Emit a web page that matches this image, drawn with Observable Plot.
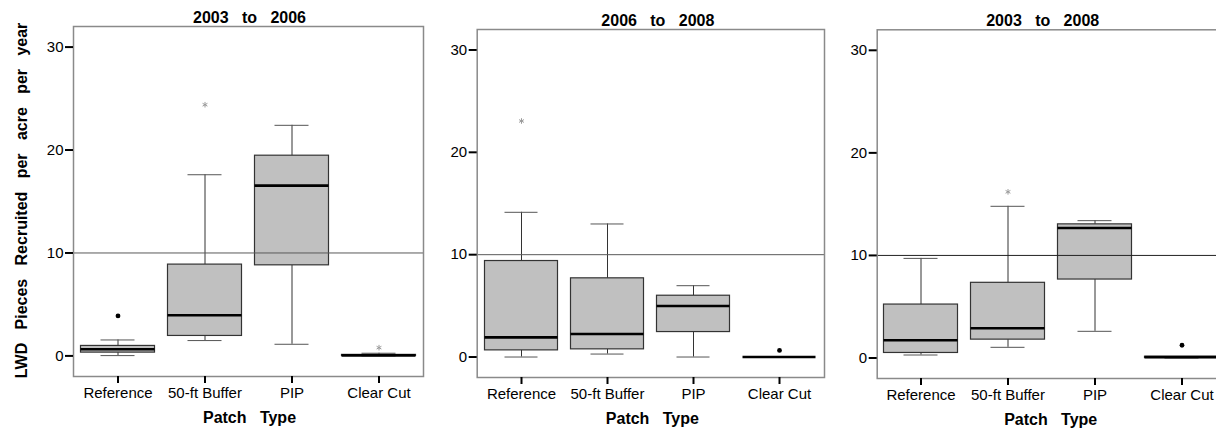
<!DOCTYPE html>
<html>
<head>
<meta charset="utf-8">
<script src="https://cdn.jsdelivr.net/npm/d3@7"></script>
<script src="https://cdn.jsdelivr.net/npm/@observablehq/plot@0.6"></script>
<style>
  html, body { margin: 0; padding: 0; background: #fff; }
  #chart { position: relative; width: 1216px; height: 428px; overflow: hidden; background: #fff; }
  #chart svg { position: absolute; top: 0; }
</style>
</head>
<body>
<div id="chart"></div>
<script>
// Patch types along each x axis
const patchTypes = ["Reference", "50-ft Buffer", "PIP", "Clear Cut"];

// Monitoring periods, one panel each
const periods = ["2003 to 2006", "2006 to 2008", "2003 to 2008"];

// Box-plot summaries (LWD pieces recruited per acre per year), one row per period,
// one value per patch type in the order of patchTypes
const whiskerLow  = [[0.03, 1.49, 1.13, 0.00], [0.00, 0.29, 0.00, 0.00], [0.29, 1.04, 2.60, 0.00]];
const quartile1   = [[0.32, 1.94, 8.80, 0.00], [0.65, 0.75, 2.44, 0.00], [0.49, 1.79, 7.65, 0.00]];
const medians     = [[0.65, 3.95, 16.54, 0.05], [1.92, 2.25, 4.98, 0.00], [1.73, 2.90, 12.67, 0.08]];
const quartile3   = [[0.97, 8.87, 19.45, 0.10], [9.38, 7.69, 5.99, 0.00], [5.21, 7.33, 13.03, 0.12]];
const whiskerHigh = [[1.55, 17.60, 22.40, 0.26], [14.14, 13.00, 6.97, 0.00], [9.71, 14.79, 13.39, 0.12]];

// Individual points beyond the whiskers: period index, patch type, value, kind
const outlierPeriod = [0, 0, 0, 1, 1, 2, 2];
const outlierPatch  = ["Reference", "50-ft Buffer", "Clear Cut", "Reference", "Clear Cut", "50-ft Buffer", "Clear Cut"];
const outlierValue  = [3.88, 24.4, 0.8, 23.06, 0.65, 16.2, 1.24];
const outlierKind   = ["outlier", "extreme", "extreme", "extreme", "outlier", "extreme", "outlier"];

// Reference level drawn across every panel
const targetLevel = [10];
const yTicks = [0, 10, 20, 30];

const xTitle = "Patch Type";
const yTitle = "LWD Pieces Recruited per acre per year";

// Wide word gaps in the titles (non-breaking so SVG keeps them)
const spaced = (s) => s.split(" ").join("\u00a0\u00a0 ");

// Panel placement on the page
const panels = [
  {left: 0,   width: 428, marginLeft: 73,   marginRight: 5,   marginTop: 26,   marginBottom: 52, titleDx: 1,    xTitleDx: 1,  rule: "#5a5a5a"},
  {left: 440, width: 392, marginLeft: 36.7, marginRight: 8,   marginTop: 29,   marginBottom: 51, titleDx: 7,    xTitleDx: 1.5, rule: "#5a5a5a"},
  {left: 840, width: 390, marginLeft: 36.7, marginRight: 5.3, marginTop: 29.3, marginBottom: 50, titleDx: -8.5, xTitleDx: -0.5, rule: "#222"}
];

const chart = document.getElementById("chart");
const font = "'Liberation Sans', Arial, Helvetica, sans-serif";

periods.forEach((period, i) => {
  const L = panels[i];
  const rows = patchTypes.map((p, j) => ({
    patch: p,
    lo: whiskerLow[i][j],
    q1: quartile1[i][j],
    med: medians[i][j],
    q3: quartile3[i][j],
    hi: whiskerHigh[i][j]
  }));
  const pts = outlierValue
    .map((v, k) => ({period: outlierPeriod[k], patch: outlierPatch[k], value: v, kind: outlierKind[k]}))
    .filter(d => d.period === i);

  const marks = [
    // whiskers
    Plot.ruleX(rows, {x: "patch", y1: "lo", y2: "q1", stroke: "#333", strokeWidth: 1}),
    Plot.ruleX(rows, {x: "patch", y1: "q3", y2: "hi", stroke: "#333", strokeWidth: 1}),
    Plot.tickY(rows, {x: "patch", y: "lo", stroke: "#555", strokeWidth: 1, insetLeft: 26.5, insetRight: 26.5}),
    Plot.tickY(rows, {x: "patch", y: "hi", stroke: "#555", strokeWidth: 1, insetLeft: 26.5, insetRight: 26.5}),
    // boxes
    Plot.barY(rows, {x: "patch", y1: "q1", y2: "q3", fill: "#c0c0c0", stroke: "#333", strokeWidth: 1.2, insetLeft: 6.5, insetRight: 6.5}),
    // medians
    Plot.tickY(rows, {x: "patch", y: "med", stroke: "#000", strokeWidth: 2.6, insetLeft: 6.5, insetRight: 6.5}),
    // level line
    Plot.ruleY(targetLevel, {stroke: L.rule, strokeWidth: 1}),
    // outliers and extremes
    Plot.dot(pts.filter(d => d.kind === "outlier"), {x: "patch", y: "value", r: 2.4, fill: "#000", stroke: "none"}),
    Plot.dot(pts.filter(d => d.kind === "extreme"), {x: "patch", y: "value", r: 2.6, symbol: "asterisk", stroke: "#9a9a9a", strokeWidth: 1}),
    Plot.frame({stroke: "#8a8a8a", strokeWidth: 1.5}),
    Plot.axisY({ticks: yTicks, tickSize: 8, tickPadding: 2, strokeWidth: 2, stroke: "#000", fontSize: 15, label: null, tickFormat: d3.format("d")}),
    Plot.axisX({tickSize: 7, tickPadding: 4, strokeWidth: 2, stroke: "#000", fontSize: 15, label: null}),
    // panel title
    Plot.text([spaced(period)], {text: d => d, frameAnchor: "top", dy: -9, dx: L.titleDx, lineAnchor: "middle", textAnchor: "middle", fontWeight: "bold", fontSize: 16, fill: "#000"}),
    // x-axis title
    Plot.text([spaced(xTitle)], {text: d => d, frameAnchor: "bottom", dy: 41, dx: L.xTitleDx, lineAnchor: "middle", textAnchor: "middle", fontWeight: "bold", fontSize: 16, fill: "#000"})
  ];
  if (i === 0) {
    marks.push(Plot.text([spaced(yTitle)], {text: d => d, frameAnchor: "left", dx: -52, dy: -1, rotate: -90, lineAnchor: "middle", textAnchor: "middle", fontWeight: "bold", fontSize: 16, fill: "#000"}));
  }

  const svg = Plot.plot({
    width: L.width,
    height: 428,
    marginLeft: L.marginLeft,
    marginRight: L.marginRight,
    marginTop: L.marginTop,
    marginBottom: L.marginBottom,
    style: {fontFamily: font, fontSize: "15px", background: "transparent", overflow: "visible", color: "#000"},
    x: {domain: patchTypes, padding: 0},
    y: {domain: [-2, 32]},
    marks
  });
  svg.style.left = L.left + "px";
  chart.appendChild(svg);
});
</script>
</body>
</html>
